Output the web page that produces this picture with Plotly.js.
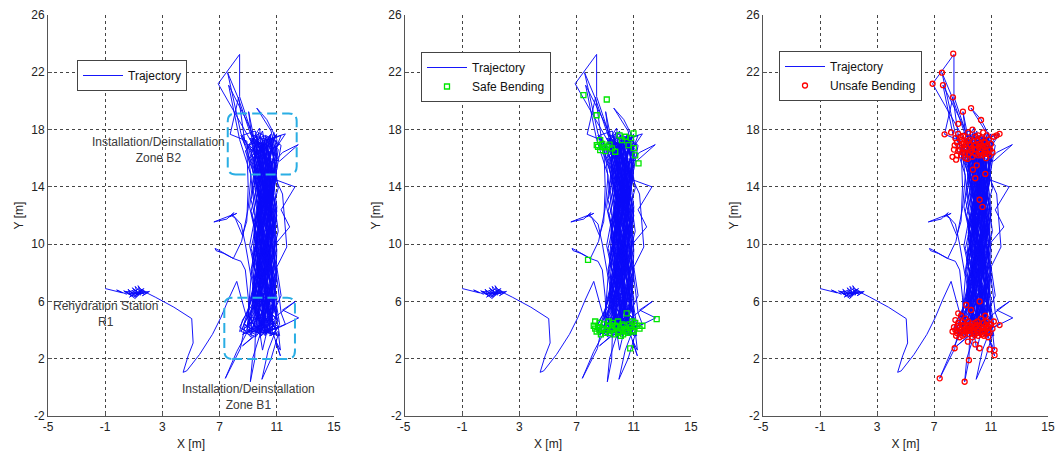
<!DOCTYPE html>
<html><head><meta charset="utf-8">
<script src="https://cdn.plot.ly/plotly-3.0.1.min.js"></script>
<style>html,body{margin:0;padding:0;background:#fff}#chart{width:1057px;height:453px}</style>
</head><body><div id="chart"></div>
<script>
// ---- values ----
const xTicks = [-5, -1, 3, 7, 11, 15];
const yTicks = [-2, 2, 6, 10, 14, 18, 22, 26];

// rehydration station scribble (x, y in metres)
const rehydrationPath = [
[-1.0,6.9],[-0.3,6.75],[0.2,6.6],[-0.2,6.8],[0.5,6.5],[0.3,6.75],[0.8,6.45],[0.6,6.85],[1.0,6.5],[0.7,6.3],
[1.2,6.7],[0.9,6.95],[1.3,6.4],[1.1,7.05],[1.5,6.6],[1.0,6.35],[1.6,6.8],[1.2,6.5],[1.8,6.7],[1.4,6.9],
[0.8,6.6],[1.5,6.45],[1.3,7.1],[1.7,6.55],[0.4,6.7],[1.1,6.2],[1.4,6.75],[2.0,6.65],[1.6,6.4],[2.1,6.7],
[1.5,6.55],[1.0,6.8],[0.5,6.6],[0.9,6.4],[1.7,6.9],[1.2,6.3],[0.6,6.55],[1.9,6.6]
];
// walk from the station to the corridor
const transitPath = [
[2.5,6.3],[3.8,5.6],[5.05,4.8],[5.1,3.9],[5.15,3.1],[4.8,2.2],[4.45,1.05],[4.7,1.15],[5.6,2.3],[6.5,3.7],
[7.1,4.9],[7.6,6.1],[8.2,7.4]
];
// back-and-forth walking between zone B1 and zone B2 (first half)
const corridorPath = [
[8.8,5.2],[9.3,4.0],[8.6,3.7],[9.9,4.3],
[10.2,6.3],[9.8,8.7],[10.4,11.2],[10.1,13.6],[9.7,16.2],[9.1,17.4],[10.0,17.0],
[10.6,14.0],[10.3,11.5],[9.6,8.9],[10.0,6.1],[9.2,3.9],[10.4,3.8],[9.7,4.5],
[9.3,6.8],[9.5,9.4],[9.9,12.0],[9.6,14.5],[9.0,16.8],[8.6,17.6],[9.5,17.9],[9.8,16.6],
[10.3,13.2],[10.7,10.5],[10.2,7.8],[10.6,5.2],[10.1,3.9],[11.0,4.1],[10.5,4.6],
[10.8,6.6],[10.5,9.1],[10.9,11.6],[10.5,14.1],[10.8,16.3],[11.3,17.6],[10.4,17.2],
[10.0,14.8],[9.7,12.2],[10.1,9.6],[9.4,7.1],[8.9,4.8],[8.5,3.9],[9.4,3.6],
[8.6,2.9],[9.6,3.7],
[9.8,5.9],[10.3,8.4],[9.9,10.9],[10.4,13.3],[10.2,15.9],[9.6,17.1],[10.7,16.8],
[10.9,14.4],[10.1,11.9],[9.5,9.8],[9.9,7.4],[9.5,5.0],[9.0,4.2],[9.9,3.7],
[9.6,6.4],[10.0,8.1],[9.6,10.4],[10.0,12.6],[9.3,15.2],[8.8,16.5],[9.4,17.3],
[8.4,20.3],[8.4,23.25],[6.9,21.2],[8.5,18.4],[9.3,17.0],
[9.8,14.6],[10.6,12.5],[10.3,9.9],[10.9,7.5],[10.7,5.3],[10.2,4.0],[11.1,3.7],
[10.6,2.0],[9.96,0.56],[10.4,2.6],[10.9,3.9],
[11.0,6.2],[10.6,8.5],[10.3,11.1],[10.7,13.8],[10.9,16.1],[10.2,17.6],[11.0,17.2],
[10.2,15.4],[9.9,13.0],[9.4,10.6],[9.8,8.0],[9.3,5.6],[8.7,4.4],[9.6,3.9],
[10.1,5.7],[10.7,7.9],[10.1,10.1],[9.8,12.9],[10.5,15.0],[10.0,16.9],[9.2,16.6],
[10.4,16.0],[11.2,15.8],[12.5,16.95],[11.4,16.4],[10.6,15.5],
[10.8,13.1],[11.1,10.9],[10.4,8.2],[10.0,5.8],[10.7,4.3],[9.8,3.5],[10.3,4.1],
[9.9,6.6],[9.3,8.9],[9.5,11.4],[9.9,13.9],[9.4,16.0],[8.9,17.0],[8.5,17.7],
[7.56,21.97],[8.3,20.2],[9.2,17.6],[9.9,16.9],
[9.7,14.2],[10.2,11.7],[9.8,9.4],[10.3,6.8],[9.9,4.5],[9.2,3.7],[8.8,4.4],
[8.45,2.7],[7.4,0.63],[8.2,2.5],[8.9,3.8],
[9.1,6.0],[9.7,8.4],[9.4,10.8],[9.8,13.3],[9.9,15.6],[10.4,17.4],[9.7,17.8],
[10.4,15.1],[10.9,12.8],[10.6,10.3],[10.3,7.6],[10.5,4.8],[11.1,4.2],[10.6,3.6],
[10.3,6.0],[10.0,8.6],[10.6,11.4],[10.2,13.7],[10.6,16.4],[11.2,17.0],[10.5,16.5],
[10.1,14.0],[10.5,11.0],[9.7,8.3],[9.4,5.9],[9.7,3.8],[9.0,4.0],[10.1,4.4],
[10.5,6.9],[10.9,9.3],[10.5,11.9],[10.9,14.6],[10.3,16.7],[9.5,17.5],[10.1,16.3],
[10.9,14.5],[12.27,14.0],[11.3,12.4],[11.9,11.2],[10.9,10.0],
[10.4,7.9],[10.8,5.6],[10.4,3.9],[9.4,4.1],[9.9,3.6],
[9.5,6.3],[9.9,9.0],[9.7,11.6],[10.3,14.3],[9.8,16.8],[9.3,17.6],[10.3,17.3],
[10.2,14.9],[9.6,12.4],[10.0,9.9],[9.6,7.6],[9.0,5.4],[8.6,4.1],[9.2,3.5],
[9.3,6.6],[9.9,9.7],[10.2,12.3],[9.7,14.9],[9.2,16.3],[9.6,17.1],[8.9,16.9],
[9.0,14.0],[8.9,11.6],[8.6,10.6],[8.1,11.8],[7.84,12.0],[8.2,12.15],[7.7,11.9],[8.0,12.2],[7.5,11.75],[6.6,11.55],
[7.3,11.85],[7.9,12.05],[8.5,11.4],[8.8,10.0],
[9.2,7.7],[9.0,5.1],[9.5,4.2],[10.6,3.8],[10.0,4.6],
[10.6,7.0],[10.2,9.6],[10.7,12.0],[10.4,14.8],[10.7,17.1],[11.0,17.7],[10.4,16.9],
[10.5,13.9],[10.0,11.2],[10.6,8.7],[10.9,6.2],[11.2,4.4],[10.8,3.7],[10.0,3.9],
[11.0,5.0],[12.3,6.0],[11.4,5.4],[12.53,4.85],[11.2,4.2],[10.3,4.0],
[10.4,6.4],[9.7,8.0],[10.0,10.6],[9.6,13.2],[10.0,15.4],[9.0,16.9],[9.7,17.7],
[9.4,15.0],[9.1,12.6],[9.6,10.3],[9.2,8.2],[9.6,6.2],[8.9,4.0],[9.5,3.7],
[9.45,1.9],[9.15,0.39],[9.3,2.0],[9.8,3.6],
[10.3,5.5],[10.1,8.2],[10.5,10.4],[10.0,12.2],[10.3,14.6],[10.9,16.5],[10.6,17.9],
[9.6,19.5],[10.3,18.7],[11.0,17.3],
[11.0,15.3],[10.7,12.9],[11.0,10.0],[10.6,7.3],[11.0,5.1],[10.5,3.6],[11.1,3.9],
[11.25,2.6],[10.9,3.3],[11.25,2.2],[10.7,3.9],
[10.7,6.7],[10.1,9.2],[10.5,12.8],[10.0,15.7],[10.2,17.0],[9.6,16.4],
[9.9,13.6],[9.4,11.0],[9.9,8.7],[9.4,6.5],[8.8,5.0],[8.4,4.2],[9.1,3.8],
[9.0,6.3],[8.8,8.2],[8.5,8.8],[7.96,9.0],[7.3,9.35],[6.75,9.55],[6.68,9.7],[6.9,9.6],[7.4,9.3],[7.96,9.0],
[8.54,10.2],[9.0,12.5],[9.2,14.8],[8.7,16.4],[8.4,17.3],
[7.63,21.1],[8.9,18.6],[9.5,17.2],
[10.2,14.4],[9.8,11.9],[10.3,9.3],[9.8,6.9],[10.2,4.2],[10.8,4.5],[10.4,3.8],
[10.9,6.4],[11.0,9.6],[10.6,12.1],[11.1,13.9],[10.8,15.9],[10.4,17.5],[11.3,16.9],
[10.9,14.7],[10.2,12.1],[10.4,9.0],[9.8,7.0],[9.7,4.9],[9.3,3.9],[10.4,4.3],
[10.0,2.6],[9.8,3.9],
[9.8,6.7],[10.4,9.8],[9.9,11.8],[10.3,13.8],[9.7,16.1],[10.1,17.6],[9.3,17.0],
[9.03,19.25],[9.4,17.4],
[9.5,14.3],[10.0,12.0],[9.5,9.0],[10.1,6.6],[9.1,4.6],[9.9,4.0],[9.5,3.5],
[9.7,5.8],[10.2,7.8],[9.8,10.8],[10.4,12.5],[10.1,15.2],[10.6,16.6],[9.9,17.4],
[10.6,15.8],[11.0,12.6],[10.8,9.2],[11.1,6.9],[11.3,5.2],[11.6,4.4],[10.6,4.0],
[10.5,6.5],[10.9,8.8],[10.5,11.3],[10.7,13.6],[10.2,16.0],[10.0,17.2],
[11.6,17.7],[11.0,16.8],
[10.5,13.4],[10.8,10.7],[10.1,8.5],[10.4,5.9],[9.9,3.8],[9.4,4.4],
[9.4,7.3],[9.8,10.2],[9.6,12.8],[9.3,15.5],[8.5,17.6],[8.8,16.9],
[8.33,20.25],[7.74,17.67],[8.9,17.2],
[9.2,14.7],[9.5,12.0],[9.1,9.9],[9.5,8.0],[9.3,5.8],[8.6,4.7],[8.4,3.9],[9.0,4.3],
[9.5,6.9],[9.9,8.9],[10.3,11.0],[10.1,13.5],[10.5,15.7],[9.8,17.0],[10.7,17.4],
[10.3,14.2],[10.6,11.8],[10.2,10.0],[10.7,7.1],[10.3,5.0],[9.7,4.2],[10.2,3.6],
[10.0,6.0],[10.5,8.2],[9.9,9.8],[10.3,12.7],[9.9,15.0],[9.4,16.7],[10.0,17.9],
[10.4,15.6],[10.2,13.1],[10.7,10.9],[10.0,8.4],[10.5,6.1],[9.8,4.3],[10.3,3.7],
[9.6,5.6],[9.2,7.8],[9.6,10.6],[9.2,12.3],[9.6,14.0],[9.1,16.0],[9.7,16.6],
[10.0,14.1],[10.4,11.3],[10.1,8.1],[10.3,5.3],[10.9,4.4],[10.1,3.9],[11.2,3.6],
[10.8,6.0],[10.3,8.9],[10.8,11.2],[10.4,13.2],[10.9,15.3],[11.1,16.6],[10.2,17.5],
[9.8,15.5],[10.3,13.0],[9.8,10.5],[10.2,7.9],[9.7,6.0],[9.3,4.5],[9.8,3.9],
[10.2,5.2],[9.8,7.9],[10.4,10.6],[9.9,12.0],[10.5,14.0],[10.6,15.8],[9.9,16.8],
[11.4,13.5],[11.7,9.8],[11.0,8.4],[11.3,6.4],[10.7,5.1],[10.0,4.1],
[9.5,5.4],[10.0,8.9],[9.6,11.3],[10.0,13.9],[9.5,16.0],[9.2,17.2],[9.8,18.1],
[10.0,16.0],[10.4,13.7],[9.9,11.4],[10.3,8.9],[9.9,6.4],[10.1,4.1],[9.6,3.8]
];
// second half of the corridor walking
const corridorPath2 = [
[10.0,5.1],[10.6,7.2],[10.2,9.4],[10.8,11.7],[10.4,13.9],[10.9,15.6],[10.5,17.3],
[10.0,15.3],[10.5,13.4],[10.0,11.1],[10.5,9.0],[10.1,7.0],[10.6,5.0],[10.2,3.7],
[9.4,5.3],[9.8,7.3],[9.4,9.5],[9.9,11.6],[9.5,13.8],[9.9,15.9],[9.3,17.4],
[9.7,15.6],[10.2,13.5],[9.7,11.3],[10.2,9.2],[9.7,7.1],[10.2,5.2],[9.6,4.0],
[10.9,5.5],[10.5,7.7],[10.9,9.9],[10.4,12.1],[10.9,14.3],[10.4,16.4],[10.8,17.8],
[11.0,15.9],[10.6,14.2],[11.0,12.3],[10.6,10.2],[11.0,8.3],[10.6,6.3],[11.1,4.6],
[10.2,5.6],[9.6,7.4],[10.1,9.2],[9.6,11.4],[10.1,13.6],[9.6,15.3],[10.1,17.1],
[9.3,15.9],[9.8,14.1],[9.3,12.0],[9.7,10.0],[9.3,8.1],[9.7,6.2],[9.0,4.9],
[9.8,4.8],[10.3,6.6],[9.8,8.8],[10.3,10.9],[9.9,12.8],[10.4,14.8],[9.9,16.6],
[10.7,15.0],[10.2,13.3],[10.7,11.5],[10.2,9.7],[10.7,7.7],[10.2,5.8],[10.8,4.2],
[10.4,5.4],[10.8,7.5],[10.3,9.6],[10.8,11.8],[10.3,14.0],[10.8,16.2],[10.2,17.4],
[10.6,15.1],[10.1,13.0],[10.6,11.0],[10.1,9.1],[10.6,7.0],[10.0,5.4],[10.5,4.3],
[9.5,6.0],[10.0,8.0],[9.5,10.1],[10.0,12.4],[9.6,14.4],[10.1,16.3],[9.5,17.7],
[10.0,15.7],[9.6,13.7],[10.1,11.8],[9.6,9.6],[10.0,7.7],[9.5,5.6],[9.9,4.4],
[10.6,6.2],[10.2,8.3],[10.7,10.4],[10.2,12.6],[10.7,14.6],[10.3,16.8],[10.8,17.3],
[10.3,15.5],[10.8,13.5],[10.3,11.6],[10.8,9.4],[10.3,7.4],[10.8,5.6],[10.3,4.5],
[9.7,6.5],[10.3,8.6],[9.7,10.7],[10.3,12.9],[9.8,14.9],[10.2,16.1],[9.7,17.2],
[9.4,15.4],[9.9,13.2],[9.4,11.5],[9.9,9.3],[9.4,7.6],[9.9,5.5],[9.3,4.1],
[9.9,5.9],[10.4,7.6],[10.0,9.3],[10.5,11.4],[10.0,13.4],[10.5,15.2],[10.0,16.9],
[10.7,15.6],[10.3,13.6],[10.8,11.3],[10.4,9.5],[10.9,7.6],[10.4,5.7],[10.9,4.0],
[10.1,6.4],[10.6,8.9],[10.2,11.0],[10.6,13.1],[10.2,15.3],[10.7,17.0],
[10.9,15.0],[10.5,12.7],[10.9,10.5],[10.5,8.5],[10.9,6.6],[10.4,4.6],
[9.6,5.9],[9.9,7.9],[9.5,10.3],[9.9,12.5],[9.5,14.6],[9.9,16.5],[9.4,17.2],
[9.8,15.8],[10.3,13.9],[9.8,12.1],[10.3,10.0],[9.8,8.1],[10.3,6.1],[9.8,4.7],
[10.4,6.8],[9.9,8.6],[10.5,10.8],[10.0,13.0],[10.5,14.8],[10.0,16.6],[10.6,17.7],
[10.1,15.8],[10.7,13.7],[10.2,11.9],[10.7,9.8],[10.2,7.8],[10.7,5.9],[10.1,4.2],
[9.3,5.7],[9.8,7.6],[9.2,9.7],[9.7,11.9],[9.3,14.0],[9.7,16.2],[9.1,16.9],
[9.6,15.0],[9.2,13.1],[9.7,11.0],[9.3,8.9],[9.8,7.0],[9.2,5.3],[8.9,4.3],
[10.7,5.8],[11.0,7.8],[10.6,9.9],[11.0,12.0],[10.6,13.9],[11.0,16.0],[10.5,17.6],
[10.9,15.4],[10.4,13.7],[10.9,12.2],[10.4,10.2],[10.9,8.0],[10.5,6.4],[11.0,4.8],
[10.0,5.7],[9.6,7.8],[10.1,9.9],[9.6,12.2],[10.1,14.2],[9.6,16.0],[10.2,17.1],
[9.9,15.1],[10.4,12.9],[9.9,10.9],[10.4,8.8],[9.9,6.9],[10.4,4.9],[9.7,3.9]
];

// safe bending events (green squares)
const safeBendPts = [
[7.48,20.41],[9.11,20.1],[8.4,19.0],[7.8,8.9],[12.6,4.77],[10.75,2.72],[10.5,5.17],
[8.41,16.92],[8.65,16.57],[9.12,16.8],[9.47,16.69],[9.7,16.45],[10.17,17.27],[10.63,16.92],[10.98,17.74],[11.1,16.2],
[11.33,15.64],[8.65,17.27],[8.9,16.75],[10.4,17.5],[8.5,16.8],[8.8,17.0],[9.3,16.95],[9.0,16.5],[10.0,17.6],
[10.8,17.4],[11.0,16.7],
[8.2,4.3],[8.4,3.9],[8.6,4.5],[8.8,4.1],[9.0,3.8],[9.2,4.3],[9.4,4.0],[9.6,3.7],[9.8,4.2],[10.0,3.9],
[10.2,4.4],[10.4,4.0],[10.6,3.8],[10.8,4.2],[11.0,3.9],[11.2,4.3],[9.5,4.5],[10.1,3.6],[8.7,3.7],[10.9,4.6],
[9.9,4.6],[11.4,4.1],[8.3,4.6],[11.6,4.3],[8.3,4.1],[8.5,4.2],[8.9,4.4],[9.1,4.0],[9.3,3.8],[9.5,4.1],
[9.7,4.3],[9.9,3.8],[10.1,4.1],[10.3,4.3],[10.5,3.9],[10.7,4.4],[10.9,4.0],[11.1,4.5],[8.6,4.0],[9.25,4.6],
[10.25,3.7]
];
// unsafe bending events (red circles)
const unsafeBendPts = [
[8.4,16.6],[8.6,16.2],[8.8,16.9],[8.5,17.4],[9.0,16.4],[9.1,17.1],[9.3,16.7],[9.2,16.0],[9.5,17.3],[9.6,16.5],
[9.8,16.9],[9.7,16.1],[9.9,17.5],[10.0,16.6],[10.2,17.0],[10.1,16.2],[10.4,16.7],[10.3,17.4],[10.5,16.3],[10.6,17.1],
[10.8,16.6],[10.7,17.6],[10.9,16.2],[11.0,17.0],[11.2,17.5],[8.7,17.7],[9.4,17.8],[8.9,16.2],[9.05,17.55],[9.9,16.3],
[10.45,17.8],[8.3,16.1],[8.55,15.9],[9.35,15.95],[10.0,15.5],[10.65,16.0],[11.1,16.4],[9.7,18.0],[8.2,17.8],[11.4,17.6],
[8.45,16.9],[8.7,16.5],[8.95,17.3],[9.15,16.6],[9.25,17.0],[9.45,16.3],[9.55,16.9],[9.75,17.2],[9.85,16.6],[10.05,17.3],
[10.15,16.8],[10.25,16.4],[10.35,16.9],[10.55,16.8],[10.6,16.5],[10.75,16.9],[10.85,17.3],[10.95,16.6],[8.6,17.1],[8.8,16.6],
[9.0,17.0],[9.35,17.2],[9.65,16.7],[9.95,16.95],[10.3,16.2],[10.7,16.3],[9.2,16.35],[8.9,17.5],[10.1,17.6],[10.5,17.15],
[8.4,4.2],[8.6,3.8],[8.7,4.5],[8.9,4.0],[9.0,3.6],[9.1,4.3],[9.3,3.9],[9.4,4.6],[9.5,3.7],[9.6,4.2],
[9.8,3.8],[9.9,4.5],[10.0,4.0],[10.1,3.6],[10.2,4.3],[10.4,3.9],[10.5,4.5],[10.6,3.7],[10.7,4.1],[10.9,4.4],
[10.9,3.8],[11.1,4.1],[8.5,4.7],[9.2,4.8],[10.3,4.8],[8.8,3.5],[9.7,3.5],[10.8,3.5],[9.45,4.05],[10.05,4.6],
[8.3,3.9],[11.2,4.6],[8.9,5.0],[10.6,5.0],[9.6,5.4],[9.26,5.75],[10.2,6.0],[8.7,5.17],[11.6,4.35],
[8.5,4.0],[8.65,4.3],[8.8,3.85],[8.95,4.35],[9.05,3.95],[9.2,4.05],[9.35,4.35],[9.55,3.95],[9.65,4.45],[9.75,4.0],
[9.9,4.2],[10.05,3.8],[10.15,4.1],[10.3,4.2],[10.35,3.7],[10.45,4.15],[10.55,3.95],[10.65,4.35],[10.8,3.9],[10.85,4.2],
[11.0,4.4],[8.55,3.6],[9.15,3.7],[9.85,3.65],[10.5,3.6],[8.75,4.15],[9.5,4.3],[10.0,4.35],[10.7,4.6],[9.0,4.55],
[8.45,2.73],[9.45,1.9],[9.38,3.19],[10.2,2.73],[10.9,2.65],[11.25,2.6],[11.25,2.25],[7.4,0.63],[9.15,0.39],[9.9,3.0],
[8.35,23.3],[7.56,21.97],[6.9,21.2],[7.63,21.1],[8.33,20.25],[9.03,19.25],[9.6,19.5],[10.3,18.67],[11.6,17.7],[7.74,17.67],
[8.7,18.4],[10.2,13.1],[10.4,12.6],[9.73,15.2],[9.9,14.6],[10.6,14.9]
];

// dashed zones in the first panel: [xmin, xmax, ymin, ymax]
const zoneB1 = [7.33, 12.27, 1.98, 6.26];
const zoneB2 = [7.57, 12.39, 14.87, 19.13];
const zoneLabels = [
  {x: 2.71, y: 16.57, text: 'Installation/Deinstallation<br>Zone B2'},
  {x: -1.0, y: 5.12, text: 'Rehydration Station<br>R1'},
  {x: 9.0, y: -0.68, text: 'Installation/Deinstallation<br>Zone B1'}
];

// ---- build ----
const path = rehydrationPath.concat(transitPath, corridorPath, corridorPath2);
const trajX = path.map(p => p[0]);
const trajY = path.map(p => p[1]);

const FONT = 'Liberation Sans, Arial, sans-serif';
const lineStyle = {color: 'rgb(10,10,250)', width: 0.95};
const suffix = ['', '2', '3'];

const traces = [];
suffix.forEach((s, i) => {
  traces.push({
    x: trajX, y: trajY, xaxis: 'x' + s, yaxis: 'y' + s,
    mode: 'lines', line: lineStyle, name: 'Trajectory',
    legend: 'legend' + s, showlegend: true, hoverinfo: 'skip'
  });
});
traces.push({
  x: safeBendPts.map(p => p[0]), y: safeBendPts.map(p => p[1]),
  xaxis: 'x2', yaxis: 'y2', mode: 'markers', name: 'Safe Bending', legend: 'legend2',
  marker: {symbol: 'square-open', size: 5, color: '#00e600', line: {width: 1.3}}
});
traces.push({
  x: unsafeBendPts.map(p => p[0]), y: unsafeBendPts.map(p => p[1]),
  xaxis: 'x3', yaxis: 'y3', mode: 'markers', name: 'Unsafe Bending', legend: 'legend3',
  marker: {symbol: 'circle-open', size: 5, color: '#ff0000', line: {width: 1.3}}
});

const domains = [[48/1057, 334/1057], [405/1057, 691/1057], [763/1057, 1048/1057]];
const legendPos = [[77/1057, (416-60)/401], [421/1057, (416-52)/401], [779/1057, (416-51)/401]];

const layout = {
  width: 1057, height: 453,
  margin: {l: 0, r: 0, t: 15, b: 37},
  paper_bgcolor: '#fff', plot_bgcolor: '#fff',
  font: {family: FONT, size: 12, color: '#222'},
  shapes: [], annotations: []
};

suffix.forEach((s, i) => {
  layout['xaxis' + s] = {
    domain: domains[i], anchor: 'y' + s, range: [-5, 15],
    tickmode: 'array', tickvals: xTicks, ticktext: xTicks.map(String),
    showgrid: true, gridcolor: '#444', griddash: 'dot', gridwidth: 1,
    zeroline: false, showline: true, linecolor: '#555', linewidth: 1,
    ticks: 'inside', ticklen: 4, tickcolor: '#555',
    tickfont: {family: FONT, size: 12, color: '#222'},
    title: {text: 'X [m]', font: {family: FONT, size: 12, color: '#222'}, standoff: 6},
    automargin: false, fixedrange: true
  };
  layout['yaxis' + s] = {
    domain: [0, 1], anchor: 'x' + s, range: [-2, 26],
    tickmode: 'array', tickvals: yTicks, ticktext: yTicks.map(String),
    showgrid: true, gridcolor: '#444', griddash: 'dot', gridwidth: 1,
    zeroline: false, showline: true, linecolor: '#555', linewidth: 1,
    ticks: 'inside', ticklen: 4, tickcolor: '#555',
    tickfont: {family: FONT, size: 12, color: '#222'},
    title: {text: 'Y [m]', font: {family: FONT, size: 12, color: '#222'}, standoff: 5},
    automargin: false, fixedrange: true
  };
  layout['legend' + s] = {
    x: legendPos[i][0], y: legendPos[i][1], xanchor: 'left', yanchor: 'top',
    xref: 'paper', yref: 'paper',
    bgcolor: '#fff', bordercolor: '#444', borderwidth: 1,
    font: {family: FONT, size: 12, color: '#111'}, itemwidth: 40, tracegroupgap: 0
  };
});

function roundedRect(z, rx, ry) {
  const [x0, x1, y0, y1] = z;
  return `M ${x0+rx},${y0} L ${x1-rx},${y0} Q ${x1},${y0} ${x1},${y0+ry} L ${x1},${y1-ry} Q ${x1},${y1} ${x1-rx},${y1} ` +
         `L ${x0+rx},${y1} Q ${x0},${y1} ${x0},${y1-ry} L ${x0},${y0+ry} Q ${x0},${y0} ${x0+rx},${y0} Z`;
}
[zoneB1, zoneB2].forEach(z => {
  layout.shapes.push({
    type: 'path', xref: 'x', yref: 'y', path: roundedRect(z, 0.55, 0.55),
    line: {color: '#2aaee4', width: 2, dash: '10px,5px'}, layer: 'above'
  });
});
zoneLabels.forEach(a => {
  layout.annotations.push({
    xref: 'x', yref: 'y', x: a.x, y: a.y, text: a.text, showarrow: false,
    align: 'center', font: {family: FONT, size: 12, color: '#3a3a3a'}
  });
});

Plotly.newPlot('chart', traces, layout, {displayModeBar: false, staticPlot: true});
</script>
</body></html>
